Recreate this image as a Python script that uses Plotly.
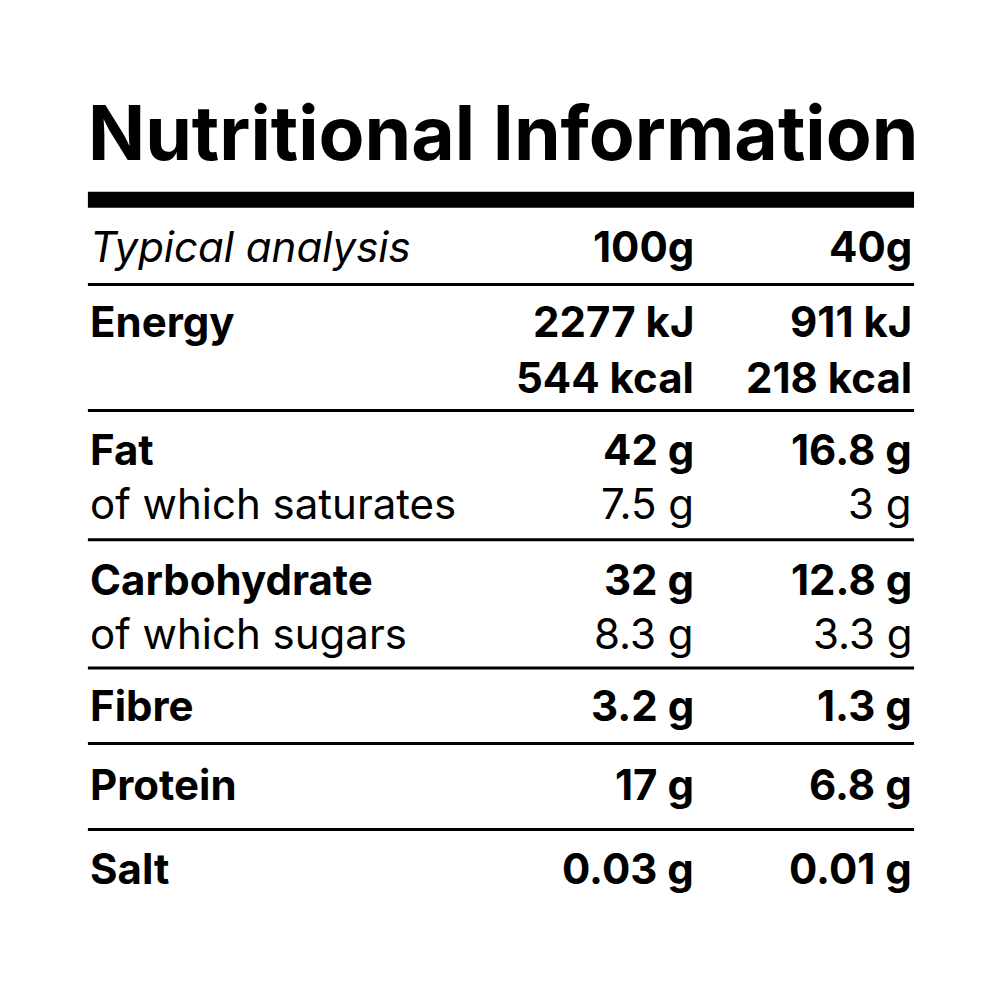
import plotly.graph_objects as go

title = "Nutritional Information"
header = ["Typical analysis", "100g", "40g"]
labels = ["Energy", "", "Fat", "of which saturates", "Carbohydrate", "of which sugars", "Fibre", "Protein", "Salt"]
bold = [True, True, True, False, True, False, True, True, True]
per_100g = ["2277 kJ", "544 kcal", "42 g", "7.5 g", "32 g", "8.3 g", "3.2 g", "17 g", "0.03 g"]
per_40g = ["911 kJ", "218 kcal", "16.8 g", "3 g", "12.8 g", "3.3 g", "1.3 g", "6.8 g", "0.01 g"]

row_y = [323, 378, 450, 503, 578, 632, 703, 782, 865]
line_y = [286, 411, 539, 666, 741, 826]
FONT = "Inter"
FS = 42

fig = go.Figure()
ann = []
def add(x, y, t, anchor, size=FS):
    ann.append(dict(x=x, y=y, text=t, xanchor=anchor, yanchor="middle",
                    font=dict(size=size, family=FONT, color="black"), showarrow=False))

add(88, 135, "<b>"+title+"</b>", "left", 75)
add(90, 248, "<i>"+header[0]+"</i>", "left")
add(695, 248, "<b>"+header[1]+"</b>", "right")
add(912, 248, "<b>"+header[2]+"</b>", "right")
for lab, b, v1, v2, y in zip(labels, bold, per_100g, per_40g, row_y):
    w = (lambda s: "<b>"+s+"</b>") if b else (lambda s: s)
    if lab:
        add(90, y, w(lab), "left")
    add(695, y, w(v1), "right")
    add(912, y, w(v2), "right")

shapes = [dict(type="rect", x0=90, x1=912, y0=194, y1=210, fillcolor="black", line_width=0)]
for y in line_y:
    shapes.append(dict(type="line", x0=90, x1=912, y0=y, y1=y, line=dict(color="black", width=3)))

fig.update_layout(width=1000, height=1000, margin=dict(l=0, r=0, t=0, b=0),
                  plot_bgcolor="white", paper_bgcolor="white",
                  xaxis=dict(range=[10.5, 1005.5], visible=False, fixedrange=True),
                  yaxis=dict(range=[1003, 12], visible=False, fixedrange=True),
                  annotations=ann, shapes=shapes, showlegend=False)
fig.write_html("out.html")
